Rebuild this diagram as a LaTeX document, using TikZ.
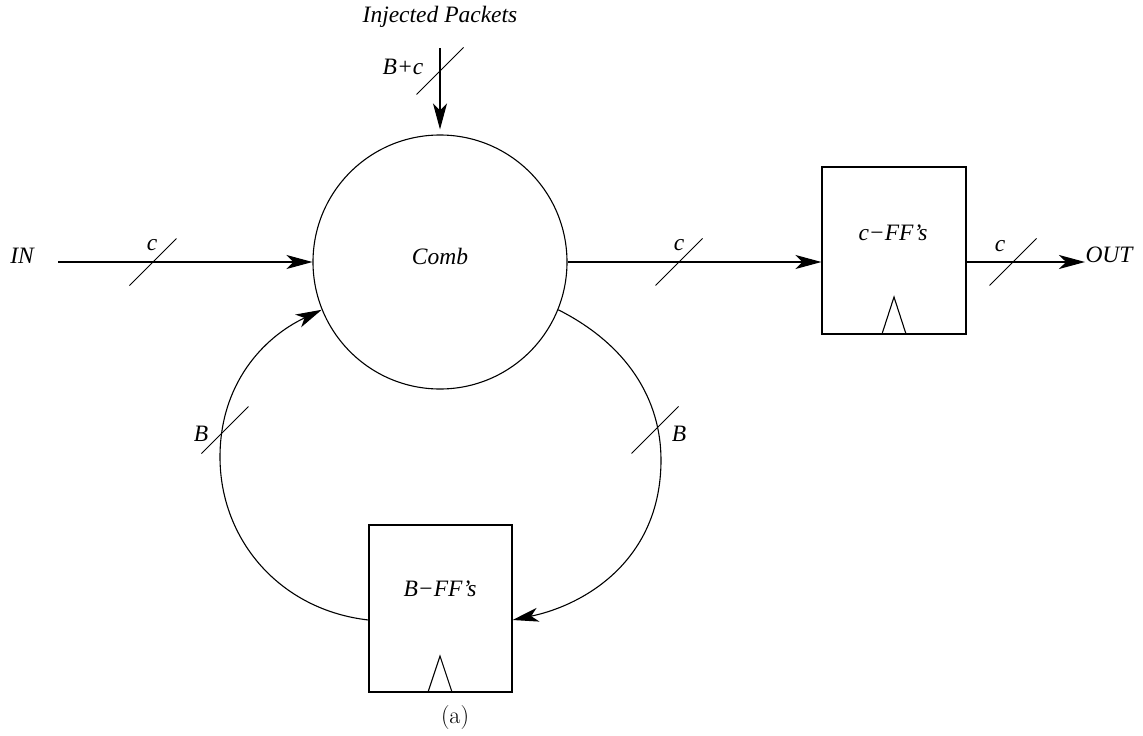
\documentclass[tikz,border=0pt]{standalone}
\usepackage{fontspec}
\newfontfamily\figfont{Liberation Serif}
\usetikzlibrary{arrows.meta}
\begin{document}
\begin{tikzpicture}[x=1pt,y=-1pt,
  wire/.style={line width=1.1pt},
  arr/.style={wire,-{Stealth[length=26pt,width=14pt,inset=7pt]}},
  lbl/.style={font=\figfont\itshape\fontsize{23.5}{28}\selectfont, inner sep=0pt},
  caplbl/.style={font=\rmfamily\fontsize{24}{28}\selectfont, inner sep=0pt},
  ffbox/.style={draw,line width=1.1pt,rectangle,minimum width=144pt,minimum height=167pt,inner sep=0pt},
  busmark/.style={line width=1pt}]
\useasboundingbox (0,0) rectangle (1143,736);

% main nodes
\node[draw,circle,line width=1.1pt,minimum size=254pt,inner sep=0pt] (comb) at (440,262) {};
\node[lbl] (combt) at (440,256) {Comb};
\node[ffbox] (cff) at (894,250.5) {};
\node[lbl] (cfft) at (893,233) {c−FF’s};
\node[ffbox,minimum width=143pt] (bff) at (440.5,608.5) {};
\node[lbl] (bfft) at (440,589) {B−FF’s};

% clock triangles
\draw[wire] (882,334) -- (894,297) -- (906,334);
\draw[wire] (428,692) -- (440,656) -- (452,692);

% text labels
\node[lbl] (inj) at (440,17) {Injected Packets};
\node[lbl] (in) at (22,256) {IN};
\node[lbl] (out) at (1109,255) {OUT};
\node[lbl] (bc) at (403,67) {B+c};
\node[lbl] (c1) at (152,245) {c};
\node[lbl] (c2) at (679,245) {c};
\node[lbl] (c3) at (1000,246) {c};
\node[lbl] (b1) at (201,434) {B};
\node[lbl] (b2) at (679,434) {B};
\node[caplbl] (cap) at (455,718) {(a)};

% coordinates
\coordinate (injS) at (440,48);
\coordinate (inS) at (58,262);
\coordinate (outE) at (1085,262);

% connectors
\draw[arr] (injS) -- ([yshift=5pt]comb.north);
\draw[arr] (inS) -- (comb.west);
\draw[arr] (comb.east) -- (comb.east -| cff.west);
\draw[arr] (cff.east |- comb.east) -- (outE);
\draw[arr] (comb.-22) .. controls (628,345) and (661,400) .. (661,460)
   .. controls (661,560) and (585,605) .. ([yshift=-11.5pt]bff.east);
\draw[arr] ([yshift=-11.5pt]bff.west) .. controls (280,610) and (220,540) .. (220,457)
   .. controls (220,385) and (262,338) .. (comb.202);

% bus slashes
\foreach \x/\y in {440/71, 153/262, 679/262, 1013/262, 225/430, 655/430}
  \draw[busmark] (\x,\y) ++(-23.5,23.5) -- ++(47,-47);
\end{tikzpicture}
\end{document}
